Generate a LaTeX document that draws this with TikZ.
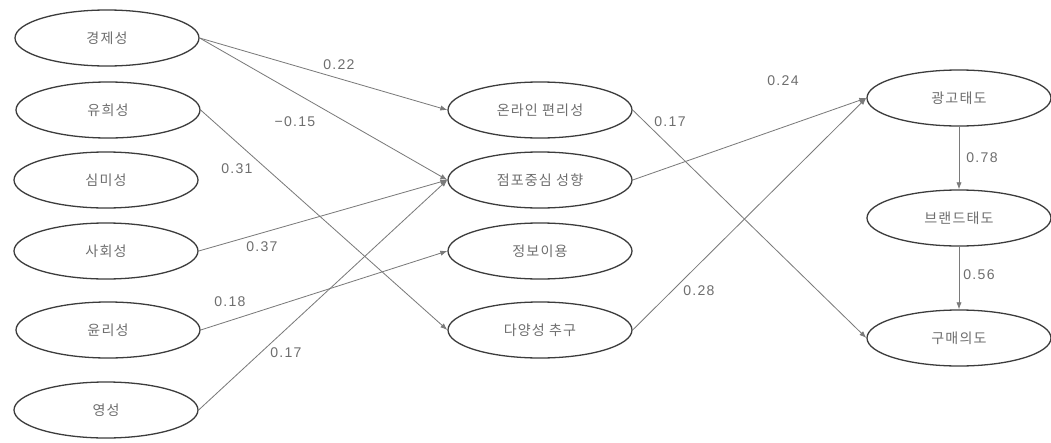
\documentclass[tikz,border=0pt]{standalone}
\usepackage{fontspec}
\setmainfont{Liberation Sans}[LetterSpace=9]
\newfontfamily\kr{Noto Sans CJK KR}[LetterSpace=8]
\usetikzlibrary{shapes.geometric,arrows.meta}
\definecolor{txtgray}{HTML}{6E6E6E}
\definecolor{rimgray}{HTML}{3C3C3C}
\definecolor{linegray}{HTML}{7A7A7A}
\tikzset{
  var/.style={ellipse, draw=rimgray, line width=1.1pt, fill=white,
    minimum width=5.52cm, minimum height=1.68cm, inner sep=0pt,
    font=\kr\fontsize{12}{14}\selectfont, text=txtgray},
  path/.style={draw=linegray, line width=0.7pt,
    -{Latex[length=6pt,width=4.5pt]}},
  coef/.style={font=\fontsize{12}{14}\selectfont, text=txtgray, inner sep=0pt}
}
\begin{document}
\begin{tikzpicture}[x=0.03cm, y=-0.03cm]
  \useasboundingbox[fill=white] (0,0) rectangle (1051,443);

  % exogenous variables
  \node[var] (e1) at (107,38)  {경제성};
  \node[var] (e2) at (108,110) {유희성};
  \node[var] (e3) at (106,180) {심미성};
  \node[var] (e4) at (106,251) {사회성};
  \node[var] (e5) at (108,330) {윤리성};
  \node[var] (e6) at (106,410) {영성};

  % mediators
  \node[var] (m1) at (540,110) {온라인 편리성};
  \node[var] (m2) at (540,180) {점포중심 성향};
  \node[var] (m3) at (540,251) {정보이용};
  \node[var] (m4) at (540,330) {다양성 추구};

  % outcomes
  \node[var] (o1) at (959,98)  {광고태도};
  \node[var] (o2) at (959,218) {브랜드태도};
  \node[var] (o3) at (959,338) {구매의도};

  % paths
  \draw[path] (e1.east) -- (m1.west);
  \draw[path] (e1.east) -- (m2.west);
  \draw[path] (e2.east) -- (m4.west);
  \draw[path] (e4.east) -- (m2.west);
  \draw[path] (e5.east) -- (m3.west);
  \draw[path] (e6.east) -- (m2.west);
  \draw[path] (m1.east) -- (o3.west);
  \draw[path] (m2.east) -- (o1.west);
  \draw[path] (m4.east) -- (o1.west);
  \draw[path] (o1.south) -- (o2.north);
  \draw[path] (o2.south) -- (o3.north);

  % path coefficients
  \node[coef] (c1)  at (339,65)  {0.22};
  \node[coef] (c2)  at (295,122) {−0.15};
  \node[coef] (c3)  at (237,169) {0.31};
  \node[coef] (c4)  at (262,247) {0.37};
  \node[coef] (c5)  at (230,302) {0.18};
  \node[coef] (c6)  at (286,353) {0.17};
  \node[coef] (c7)  at (670,122) {0.17};
  \node[coef] (c8)  at (783,81)  {0.24};
  \node[coef] (c9)  at (699,291) {0.28};
  \node[coef] (c10) at (982,158) {0.78};
  \node[coef] (c11) at (979,275) {0.56};
\end{tikzpicture}
\end{document}
